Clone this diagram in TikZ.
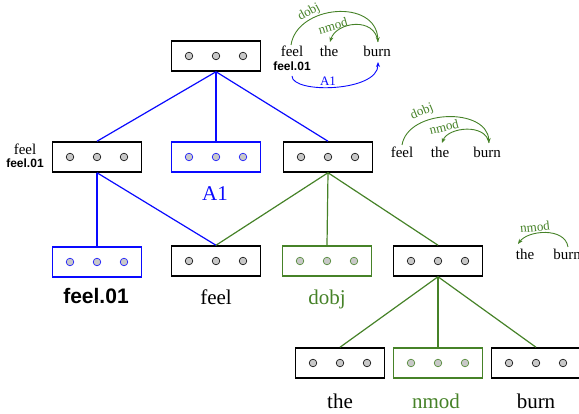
\documentclass[tikz,border=0pt]{standalone}
\usepackage{fontspec}
\setmainfont{Liberation Serif}
\newfontfamily\arialf{Liberation Sans}
\usetikzlibrary{arrows.meta}
\definecolor{dgreen}{RGB}{70,130,40}
\definecolor{dotgray}{RGB}{200,200,200}
\definecolor{pblue}{RGB}{10,10,255}
\newcommand{\threedots}[2]{\foreach \dx in {-27,0,27}{\filldraw[fill=dotgray, draw=#2, line width=0.6pt] ([xshift=\dx pt]#1.center) circle (3.8pt);}}
\begin{document}
\begin{tikzpicture}[x=1pt,y=-1pt,
  vbox/.style={draw=black, line width=1.5pt, minimum width=89pt, minimum height=30pt, fill=white, inner sep=0pt},
  bluebox/.style={vbox, draw=pblue},
  greenbox/.style={vbox, draw=dgreen},
  bline/.style={pblue, line width=1.2pt},
  gline/.style={dgreen, line width=1.2pt},
  word/.style={inner sep=0pt, anchor=base, font=\fontsize{15}{15}\selectfont},
  bigword/.style={inner sep=0pt, anchor=base, font=\fontsize{21}{21}\selectfont},
  smallsans/.style={inner sep=0pt, anchor=base, font=\arialf\bfseries\fontsize{12}{12}\selectfont},
  bigsans/.style={inner sep=0pt, anchor=base, font=\arialf\bfseries\fontsize{21}{21}\selectfont},
  arclab/.style={inner sep=0pt, font=\fontsize{13}{13}\selectfont, text=dgreen},
  garc/.style={dgreen, line width=0.9pt, -{Stealth[length=5pt,width=4pt]}},
  barc/.style={pblue, line width=0.9pt, -{Stealth[length=5pt,width=4pt]}}
]
\useasboundingbox (0,0) rectangle (579,414);

% boxes
\node[vbox] (top) at (216,56) {};
\node[vbox] (feelA) at (97,157) {};
\node[bluebox] (aone) at (216,157) {};
\node[vbox] (dobjA) at (328,157) {};
\node[bluebox] (feelzero) at (97,262) {};
\node[vbox] (feelB) at (216,261) {};
\node[greenbox] (dobjB) at (327,261) {};
\node[vbox] (nmodA) at (438,261) {};
\node[vbox] (the) at (340,363) {};
\node[greenbox] (nmodB) at (438,363) {};
\node[vbox] (burn) at (536,363) {};

\threedots{top}{black}
\threedots{feelA}{black}
\threedots{aone}{pblue}
\threedots{dobjA}{black}
\threedots{feelzero}{pblue}
\threedots{feelB}{black}
\threedots{dobjB}{dgreen}
\threedots{nmodA}{black}
\threedots{the}{black}
\threedots{nmodB}{dgreen}
\threedots{burn}{black}

% connectors
\draw[bline] (top.south) -- (feelA.north);
\draw[bline] (top.south) -- (aone.north);
\draw[bline] (top.south) -- (dobjA.north);
\draw[bline] (feelA.south) -- (feelzero.north);
\draw[bline] (feelA.south) -- (feelB.north);
\draw[gline] (dobjA.south) -- (feelB.north);
\draw[gline] (dobjA.south) -- (dobjB.north);
\draw[gline] (dobjA.south) -- (nmodA.north);
\draw[gline] (nmodA.south) -- (the.north);
\draw[gline] (nmodA.south) -- (nmodB.north);
\draw[gline] (nmodA.south) -- (burn.north);

% box labels
\node[word] (lfeelA) at (25,155) {feel};
\node[smallsans] (lfeelAz) at (25,168) {feel.01};
\node[bigword, text=pblue] (laone) at (215,201) {A1};
\node[bigsans] (lfeelzero) at (96,304) {feel.01};
\node[bigword] (lfeelB) at (216,305) {feel};
\node[bigword, text=dgreen] (ldobjB) at (327,305) {dobj};
\node[bigword] (lthe) at (340,408) {the};
\node[bigword, text=dgreen] (lnmodB) at (436,408) {nmod};
\node[bigword] (lburn) at (536,408) {burn};

% dependency group 1
\node[word] (ga-feel) at (292,57) {feel};
\node[word] (ga-the) at (329,57) {the};
\node[word] (ga-burn) at (377,57) {burn};
\node[smallsans] (ga-sense) at (292,71) {feel.01};
\coordinate (ga-f) at (291,45);
\coordinate (ga-t) at (330,42);
\coordinate (ga-b) at (378,42);
\coordinate (ga-s) at (292,76);
\coordinate (ga-b2) at (378,62);
\draw[garc] (ga-f) .. controls +(6,-40) and +(-2,-44) .. (ga-b);
\draw[garc] (ga-b) .. controls +(-3,-26) and +(6,-20) .. (ga-t);
\draw[barc] (ga-s) .. controls +(0,18) and +(0,30) .. (ga-b2);
\node[arclab, rotate=28] (ga-l1) at (309,12) {dobj};
\node[arclab, rotate=16] (ga-l2) at (333,26) {nmod};
\node[arclab, text=pblue] (ga-l3) at (328,81) {A1};

% dependency group 2
\node[word] (gb-feel) at (402,158) {feel};
\node[word] (gb-the) at (440,158) {the};
\node[word] (gb-burn) at (487,158) {burn};
\coordinate (gb-f) at (402,145);
\coordinate (gb-t) at (442,143);
\coordinate (gb-b) at (489,143);
\draw[garc] (gb-f) .. controls +(6,-36) and +(-2,-36) .. (gb-b);
\draw[garc] (gb-b) .. controls +(-3,-20) and +(6,-16) .. (gb-t);
\node[arclab, rotate=22] (gb-l1) at (422,112) {dobj};
\node[arclab, rotate=14] (gb-l2) at (444,127) {nmod};

% dependency group 3
\node[word] (gc-the) at (525,260) {the};
\node[word] (gc-burn) at (567,260) {burn};
\coordinate (gc-t) at (518,244);
\coordinate (gc-b) at (568,247);
\draw[garc] (gc-b) .. controls +(-3,-20) and +(10,-14) .. (gc-t);
\node[arclab, rotate=6] (gc-l1) at (535,227) {nmod};
\end{tikzpicture}
\end{document}
